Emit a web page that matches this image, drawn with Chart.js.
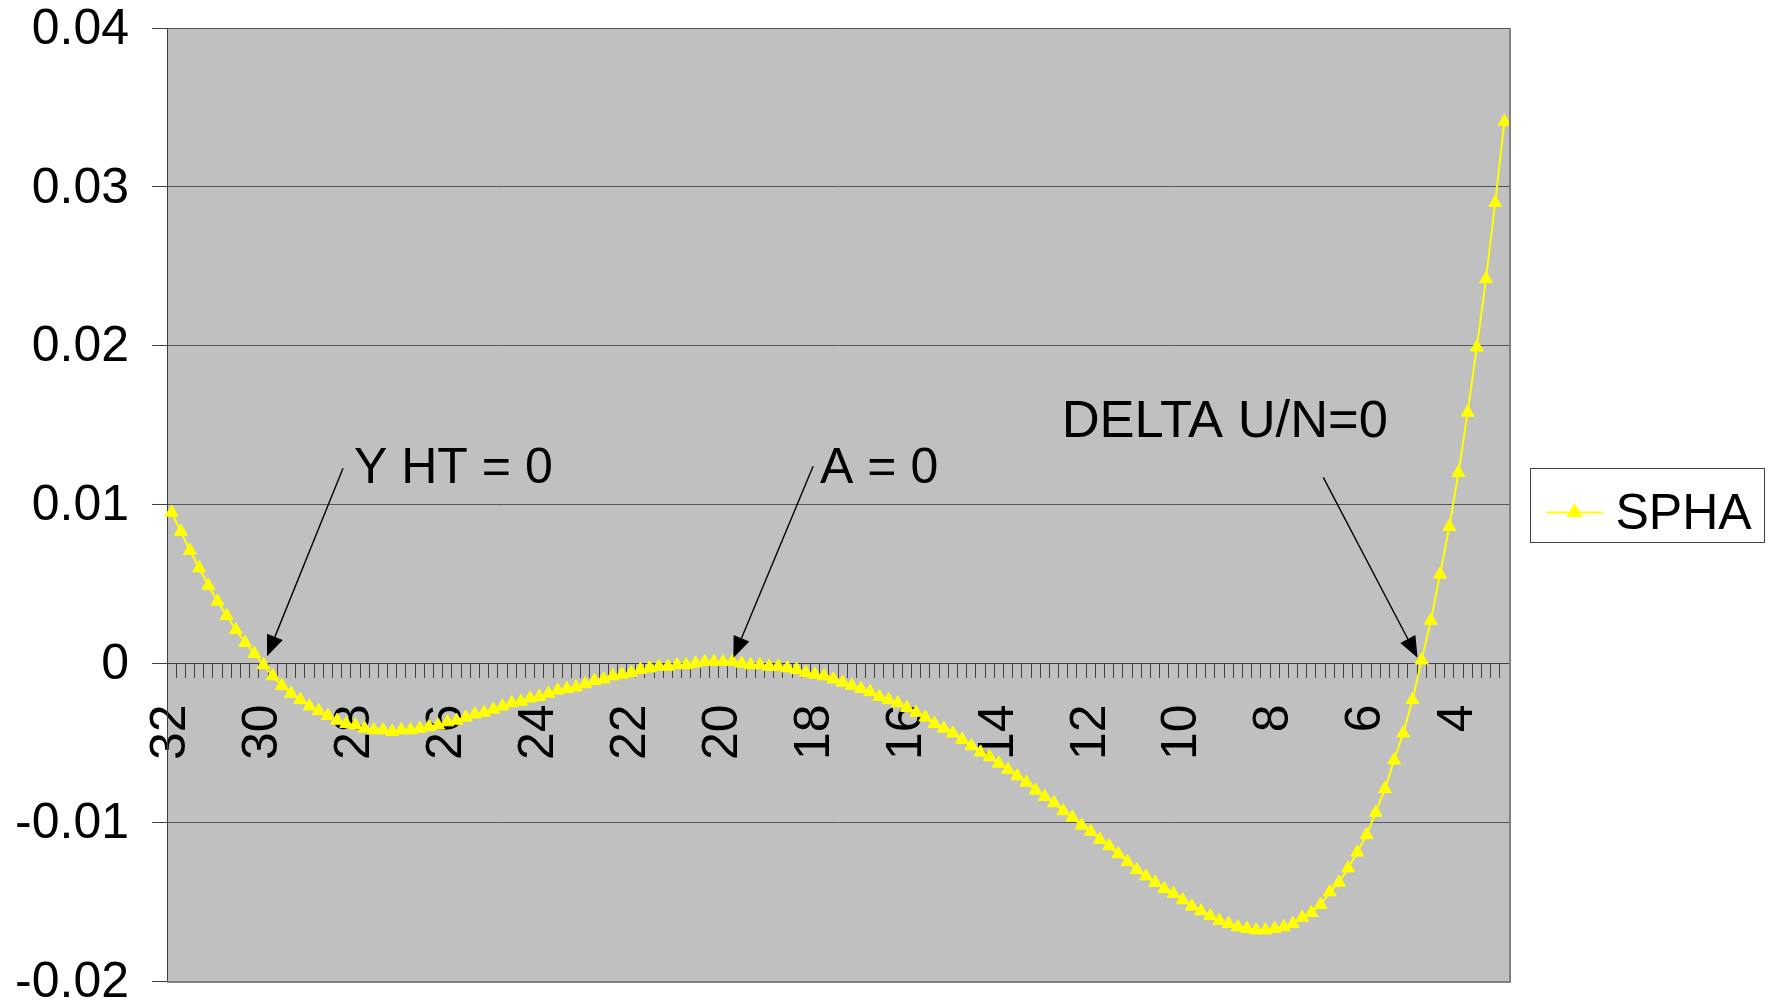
<!DOCTYPE html>
<html>
<head>
<meta charset="utf-8">
<title>SPHA</title>
<script src="https://cdn.jsdelivr.net/npm/chart.js@4.4.1/dist/chart.umd.min.js"></script>
<style>
  html, body { margin: 0; padding: 0; background: #ffffff; }
  canvas { display: block; }
</style>
</head>
<body>
<canvas id="chart" width="1773" height="1005"></canvas>
<script>
// Category axis: 32 down to 3 in steps of 0.2
const categories = [
  32, 31.8, 31.6, 31.4, 31.2, 31, 30.8, 30.6, 30.4, 30.2,
  30, 29.8, 29.6, 29.4, 29.2, 29, 28.8, 28.6, 28.4, 28.2,
  28, 27.8, 27.6, 27.4, 27.2, 27, 26.8, 26.6, 26.4, 26.2,
  26, 25.8, 25.6, 25.4, 25.2, 25, 24.8, 24.6, 24.4, 24.2,
  24, 23.8, 23.6, 23.4, 23.2, 23, 22.8, 22.6, 22.4, 22.2,
  22, 21.8, 21.6, 21.4, 21.2, 21, 20.8, 20.6, 20.4, 20.2,
  20, 19.8, 19.6, 19.4, 19.2, 19, 18.8, 18.6, 18.4, 18.2,
  18, 17.8, 17.6, 17.4, 17.2, 17, 16.8, 16.6, 16.4, 16.2,
  16, 15.8, 15.6, 15.4, 15.2, 15, 14.8, 14.6, 14.4, 14.2,
  14, 13.8, 13.6, 13.4, 13.2, 13, 12.8, 12.6, 12.4, 12.2,
  12, 11.8, 11.6, 11.4, 11.2, 11, 10.8, 10.6, 10.4, 10.2,
  10, 9.8, 9.6, 9.4, 9.2, 9, 8.8, 8.6, 8.4, 8.2,
  8, 7.8, 7.6, 7.4, 7.2, 7, 6.8, 6.6, 6.4, 6.2,
  6, 5.8, 5.6, 5.4, 5.2, 5, 4.8, 4.6, 4.4, 4.2,
  4, 3.8, 3.6, 3.4, 3.2, 3
];

// SPHA series, one value per category
const spha = [
  0.0095, 0.0083, 0.0071, 0.0060, 0.0049, 0.0039, 0.0030, 0.0021, 0.0013, 0.0006,
  -0.0001, -0.0008, -0.0014, -0.0019, -0.0023, -0.0027, -0.0030, -0.0033, -0.0036, -0.0038,
  -0.0039, -0.0041, -0.0042, -0.0042, -0.0043, -0.0042, -0.0042, -0.0041, -0.0040, -0.0039,
  -0.0037, -0.0036, -0.0034, -0.0032, -0.0031, -0.0029, -0.0027, -0.0025, -0.0024, -0.0022,
  -0.0021, -0.0019, -0.0017, -0.0016, -0.0015, -0.0013, -0.0011, -0.0010, -0.0008, -0.0007,
  -0.0006, -0.0004, -0.0003, -0.0002, -0.0002, -0.0001, -0.0001, 0.0000, 0.0001, 0.0001,
  0.0001, 0.0001, 0.0000, -0.0001, -0.0001, -0.0002, -0.0002, -0.0003, -0.0004, -0.0006,
  -0.0007, -0.0008, -0.0010, -0.0012, -0.0014, -0.0016, -0.0018, -0.0021, -0.0023, -0.0025,
  -0.0028, -0.0031, -0.0034, -0.0038, -0.0041, -0.0044, -0.0048, -0.0052, -0.0056, -0.0059,
  -0.0063, -0.0067, -0.0071, -0.0075, -0.0080, -0.0084, -0.0088, -0.0093, -0.0097, -0.0102,
  -0.0106, -0.0111, -0.0115, -0.0120, -0.0125, -0.0130, -0.0134, -0.0138, -0.0142, -0.0145,
  -0.0149, -0.0153, -0.0156, -0.0159, -0.0162, -0.0164, -0.0166, -0.0167, -0.0168, -0.0168,
  -0.0167, -0.0166, -0.0164, -0.0160, -0.0157, -0.0152, -0.0144, -0.0138, -0.0129, -0.0119,
  -0.0108, -0.0094, -0.0079, -0.0061, -0.0044, -0.0023, 0.0002, 0.0027, 0.0056, 0.0086,
  0.0120, 0.0158, 0.0199, 0.0242, 0.0290, 0.0341
];

const seriesName = 'SPHA';

// Labelled categories on the horizontal axis
const xTickLabels = ['32', '30', '28', '26', '24', '22', '20', '18', '16', '14', '12', '10', '8', '6', '4'];

// Value axis ticks
const yTickValues = [-0.02, -0.01, 0, 0.01, 0.02, 0.03, 0.04];
const yTickLabels = ['-0.02', '-0.01', '0', '0.01', '0.02', '0.03', '0.04'];

// Callouts: text and the (category, value) each arrow points at
const calloutTexts = ['Y HT = 0', 'A = 0', 'DELTA U/N=0'];
const calloutCategories = [30, 20, 4.8];
const calloutValues = [0, 0, 0];

// Pixel offsets of arrow tip, arrow tail and text baseline start from the anchor point
const calloutLayout = [
  { tip: [3.5, -7], tail: [79.5, -195], text: [90.5, -180], size: 50 },
  { tip: [10.3, -5.7], tail: [90, -197], text: [97, -180], size: 50 },
  { tip: [-4.1, -5.7], tail: [-98.4, -186], text: [-360, -226], size: 52.5 }
];

const FONT = "'Liberation Sans', Arial, Helvetica, sans-serif";
const LINE_YELLOW = '#FFFF00';

Chart.defaults.font.family = FONT;
Chart.defaults.color = '#000000';

// Grey plot background and the right/bottom plot border
const plotFrame = {
  id: 'plotFrame',
  beforeDraw(chart) {
    const { ctx, chartArea: a } = chart;
    ctx.save();
    ctx.fillStyle = '#C0C0C0';
    ctx.fillRect(a.left, a.top, a.right - a.left, a.bottom - a.top);
    ctx.restore();
  },
  afterDatasetsDraw(chart) {
    const { ctx, chartArea: a } = chart;
    ctx.save();
    ctx.strokeStyle = '#808080';
    ctx.lineWidth = 2;
    ctx.beginPath();
    ctx.moveTo(a.left, a.bottom + 1);
    ctx.lineTo(a.right + 1, a.bottom + 1);
    ctx.lineTo(a.right + 1, a.top);
    ctx.stroke();
    ctx.restore();
  }
};

// Arrows with text pointing at the zero crossings / maximum
const callouts = {
  id: 'callouts',
  afterDatasetsDraw(chart) {
    const { ctx } = chart;
    const xs = chart.scales.x, ys = chart.scales.y;
    ctx.save();
    calloutTexts.forEach((txt, i) => {
      const idx = categories.indexOf(calloutCategories[i]);
      const px = xs.getPixelForValue(idx);
      const py = ys.getPixelForValue(calloutValues[i]);
      const L = calloutLayout[i];
      const tx = px + L.tip[0], ty = py + L.tip[1];
      const sx = px + L.tail[0], sy = py + L.tail[1];
      const ang = Math.atan2(ty - sy, tx - sx);
      const headLen = 21, headHalf = 8.5;
      const bx = tx - Math.cos(ang) * headLen, by = ty - Math.sin(ang) * headLen;
      ctx.strokeStyle = '#000000';
      ctx.lineWidth = 1.4;
      ctx.beginPath();
      ctx.moveTo(sx, sy);
      ctx.lineTo(bx, by);
      ctx.stroke();
      ctx.fillStyle = '#000000';
      ctx.beginPath();
      ctx.moveTo(tx, ty);
      ctx.lineTo(bx - Math.sin(ang) * headHalf, by + Math.cos(ang) * headHalf);
      ctx.lineTo(bx + Math.sin(ang) * headHalf, by - Math.cos(ang) * headHalf);
      ctx.closePath();
      ctx.fill();
      ctx.font = L.size + 'px ' + FONT;
      ctx.textAlign = 'left';
      ctx.textBaseline = 'alphabetic';
      ctx.fillText(txt, px + L.text[0], py + L.text[1]);
    });
    ctx.restore();
  }
};

// Boxed legend to the right of the plot
const boxedLegend = {
  id: 'boxedLegend',
  afterDraw(chart) {
    const { ctx, chartArea: a } = chart;
    const bw = 234, bh = 74;
    const bx = Math.round(a.right + 21) + 0.5;
    const by = Math.round((a.top + a.bottom) / 2 - bh / 2) + 0.5;
    ctx.save();
    ctx.fillStyle = '#FFFFFF';
    ctx.fillRect(bx, by, bw, bh);
    ctx.strokeStyle = '#404040';
    ctx.lineWidth = 1;
    ctx.strokeRect(bx, by, bw, bh);
    const ly = by + 44;
    ctx.strokeStyle = LINE_YELLOW;
    ctx.lineWidth = 2;
    ctx.beginPath();
    ctx.moveTo(bx + 16, ly);
    ctx.lineTo(bx + 72, ly);
    ctx.stroke();
    ctx.fillStyle = LINE_YELLOW;
    ctx.strokeStyle = LINE_YELLOW;
    Chart.helpers.drawPoint(ctx, { pointStyle: 'triangle', radius: 7.5, borderWidth: 1, rotation: 0 }, bx + 44, ly);
    ctx.fillStyle = '#000000';
    ctx.font = '50px ' + FONT;
    ctx.textAlign = 'left';
    ctx.textBaseline = 'alphabetic';
    ctx.fillText(seriesName, bx + 85, by + 60);
    ctx.restore();
  }
};

new Chart(document.getElementById('chart'), {
  type: 'line',
  data: {
    labels: categories,
    datasets: [{
      label: seriesName,
      data: spha,
      borderColor: LINE_YELLOW,
      backgroundColor: LINE_YELLOW,
      borderWidth: 2,
      tension: 0,
      fill: false,
      pointStyle: 'triangle',
      pointRadius: 7.5,
      pointBorderWidth: 1,
      pointBackgroundColor: LINE_YELLOW,
      pointBorderColor: LINE_YELLOW
    }]
  },
  options: {
    responsive: false,
    animation: false,
    devicePixelRatio: 1,
    layout: { padding: { top: 28, right: 264, bottom: 24, left: 0 } },
    plugins: {
      legend: { display: false },
      tooltip: { enabled: false },
      title: { display: false }
    },
    scales: {
      x: {
        type: 'category',
        position: { y: 0 },
        offset: true,
        afterFit(scale) { scale.paddingLeft = 0; scale.paddingRight = 0; },
        grid: {
          offset: true,
          drawOnChartArea: false,
          drawTicks: true,
          tickLength: 14,
          tickColor: '#404040',
          tickWidth: 1
        },
        border: { display: true, color: '#404040', width: 1 },
        ticks: {
          autoSkip: false,
          minRotation: 90,
          maxRotation: 90,
          padding: 27,
          color: '#000000',
          font: { size: 50, family: FONT },
          callback(value, index) {
            const s = String(categories[index]);
            return xTickLabels.includes(s) ? s : '';
          }
        }
      },
      y: {
        type: 'linear',
        position: 'left',
        min: -0.02,
        max: 0.04,
        afterBuildTicks(scale) { scale.ticks = yTickValues.map(v => ({ value: v })); },
        afterFit(scale) { scale.width = 167; scale.paddingTop = 0; scale.paddingBottom = 0; },
        grid: {
          color: '#555555',
          lineWidth: 1,
          drawTicks: true,
          tickLength: 15,
          tickColor: '#404040'
        },
        border: { display: true, color: '#404040', width: 1 },
        ticks: {
          padding: 23,
          labelOffset: 2,
          color: '#000000',
          font: { size: 50, family: FONT },
          callback(value) {
            const k = yTickValues.indexOf(value);
            return k >= 0 ? yTickLabels[k] : '';
          }
        }
      }
    }
  },
  plugins: [plotFrame, callouts, boxedLegend]
});
</script>
</body>
</html>
